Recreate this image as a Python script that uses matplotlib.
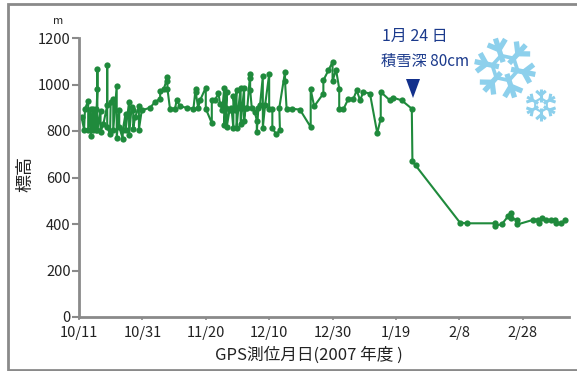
import numpy as np
from matplotlib import pyplot as plt
from matplotlib.lines import Line2D
from matplotlib.patches import Polygon

plt.rcParams['font.family'] = ['Noto Sans CJK JP', 'DejaVu Sans']

# days since 10/11
days = [0.8, 1.6, 1.9, 2.9, 2.9, 3.7, 3.7, 4.5, 4.5, 5.3, 5.3, 5.8, 5.8, 5.8, 6.8, 6.8, 7.7, 8.9, 8.9, 8.9,
        9.8, 10, 10.8, 10.8, 11.9, 11.9, 12.7, 12.7, 13.8, 13.8, 14.7, 14.7, 15.8, 15.8, 16.6, 17.1, 17.1, 17.7, 18.9, 18.9,
        19.8, 22.4, 24, 25.6, 25.6, 26.8, 27.9, 27.9, 27.9, 28.7, 30.3, 30.8, 31.9, 34, 36.1, 36.8, 36.8, 37.6, 38.2, 40,
        40, 41.9, 41.9, 42.9, 44, 44.5, 45.2, 45.8, 45.8, 46.3, 46.6, 46.6, 47.5, 48.1, 48.7, 48.7, 49.2, 49.7, 49.7, 50.3,
        51, 51, 51.5, 52.1, 52.1, 52.6, 53.1, 54, 54, 54, 54.5, 55.5, 56.1, 56.1, 56.6, 57.1, 58, 58, 58.7, 60,
        60, 61, 61, 62.2, 63.4, 63.2, 65, 65, 65.5, 67.1, 69.7, 73.1, 73.1, 74.2, 77.1, 77.1, 78.7, 80, 80, 81.1,
        82.1, 82.1, 83.4, 85, 86.6, 87.6, 88.7, 89.7, 91.8, 94.1, 95.2, 95.2, 98.1, 99.2, 101.8, 105, 105.2, 106.2, 120.2, 122.3,
        131.2, 131.4, 133.4, 135.5, 136.3, 136.3, 138.1, 138.3, 143.3, 144.8, 145.2, 146.2, 147.5, 149, 150.2, 150.4, 152.2, 153.4]
elev = [860, 806, 896, 929, 803, 896, 777, 896, 803, 896, 803, 979, 1065, 803, 886, 796, 831, 910, 1083, 817,
        786, 925, 936, 803, 994, 771, 892, 817, 767, 803, 875, 803, 925, 782, 903, 889, 810, 860, 906, 806,
        889, 900, 925, 939, 972, 982, 1032, 1015, 982, 896, 896, 932, 906, 900, 896, 982, 968, 900, 932, 987,
        896, 834, 932, 932, 963, 917, 890, 983, 824, 900, 966, 817, 890, 900, 813, 952, 890, 975, 813, 900,
        985, 830, 900, 985, 845, 900, 900, 1047, 1030, 978, 900, 880, 845, 795, 900, 910, 1035, 814, 910, 1044,
        896, 896, 814, 786, 803, 900, 1054, 1015, 896, 896, 892, 817, 979, 906, 961, 1018, 1061, 1097, 1015, 1064,
        982, 893, 893, 939, 939, 975, 932, 968, 961, 791, 853, 968, 932, 943, 932, 896, 670, 652, 406, 403,
        403, 393, 399, 435, 449, 425, 418, 398, 418, 418, 406, 425, 418, 416, 416, 406, 403, 418]

xtick_pos = [0, 20, 40, 60, 80, 100, 120, 140]
xtick_labels = ['10/11', '10/31', '11/20', '12/10', '12/30', '1/19', '2/8', '2/28']
ytick_pos = [0, 200, 400, 600, 800, 1000, 1200]

W, H = 577, 371
gray = '#8a8a8a'
navy = '#1b3a8c'
green = '#1f8a3c'
ice = '#8dd0ec'

fig = plt.figure(figsize=(W / 100, H / 100), dpi=100)
ax = fig.add_axes([79 / W, 1 - 317 / H, 490 / W, 279 / H])


def px_line(xs, ys, **kw):
    fig.add_artist(Line2D([x / W for x in xs], [1 - y / H for y in ys], **kw))


def snowflake(cx, cy, r, lw, start):
    # flake in pixel coordinates of the figure
    ring = []
    for i in range(6):
        a = np.radians(start + 60 * i)
        ux, uy = np.cos(a), np.sin(a)
        ring.append((cx + 0.42 * r * ux, cy + 0.42 * r * uy))
        segs = [((0.2 * r, 0), (r, 0)),
                ((0.62 * r, 0), (0.88 * r, 0.3 * r)), ((0.62 * r, 0), (0.88 * r, -0.3 * r))]
        for (x0, y0), (x1, y1) in segs:
            xs = [cx + x0 * ux - y0 * uy, cx + x1 * ux - y1 * uy]
            ys = [cy + x0 * uy + y0 * ux, cy + x1 * uy + y1 * ux]
            px_line(xs, ys, color=ice, lw=lw, solid_capstyle='butt')
    ring.append(ring[0])
    px_line([p[0] for p in ring], [p[1] for p in ring], color=ice, lw=lw * 0.7)


ax.plot(days, elev, color=green, lw=1.5, marker='o', ms=4.5, mew=0, clip_on=False)

ax.set_xlim(0, 154.6)
ax.set_ylim(0, 1200)
ax.spines['top'].set_visible(False)
ax.spines['right'].set_visible(False)
for s in ['left', 'bottom']:
    ax.spines[s].set_color(gray)
    ax.spines[s].set_linewidth(2)
ax.set_xticks(xtick_pos, xtick_labels)
ax.set_yticks(ytick_pos)
ax.tick_params(axis='x', length=2, width=1.2, color=gray, labelsize=10.5, pad=4.5, labelcolor='#222222')
ax.tick_params(axis='y', length=5, width=1.5, color=gray, labelsize=10.5, pad=1, labelcolor='#222222')

# annotation
fig.add_artist(Polygon([(406 / W, 1 - 79 / H), (420 / W, 1 - 79 / H), (413 / W, 1 - 98 / H)],
                       closed=True, transform=fig.transFigure, facecolor='#12308c', edgecolor='none'))
fig.text(415 / W, 1 - 36 / H, '1月 24 日', color=navy, fontsize=11.5, ha='center', va='center')
fig.text(425.5 / W, 1 - 61 / H, '積雪深 80cm', color=navy, fontsize=11, ha='center', va='center')

snowflake(505, 68, 31, 3.8, 12)
snowflake(541, 105, 16, 2.2, 30)

fig.text(58 / W, 1 - 21 / H, 'm', color='#222222', fontsize=8, ha='center', va='center')
fig.text(25 / W, 1 - 174 / H, '標高', color='#222222', fontsize=13, rotation=90, ha='center', va='center')
fig.text(309 / W, 1 - 355 / H, 'GPS測位月日(2007 年度 )', color='#222222', fontsize=12, ha='center', va='center')

# outer frame, open at the right edge
px_line([577, 7.5, 7.5, 577], [4, 4, 370, 370], color=gray, lw=2, solid_joinstyle='miter')

fig.savefig('out.png', dpi=100)
